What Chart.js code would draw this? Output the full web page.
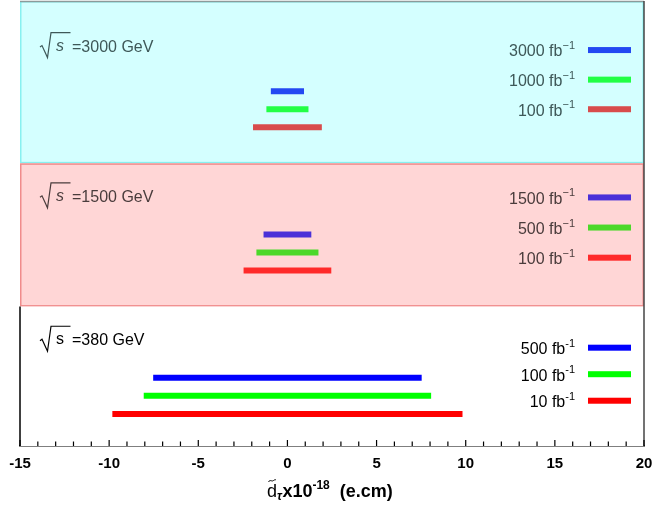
<!DOCTYPE html>
<html lang="en">
<head>
  <meta charset="UTF-8">
  <title>Tau EDM limits</title>
  <script src="https://cdn.jsdelivr.net/npm/chart.js"></script>
  <style>
    html, body { margin: 0; padding: 0; background: #fff; }
    #wrap { width: 652px; height: 508px; }
  </style>
</head>
<body>
  <div id="wrap"><canvas id="limitChart" width="652" height="508"></canvas></div>

  <script>
    // x-axis tick labels
    const xTicks = [-15, -10, -5, 0, 5, 10, 15, 20];

    // collision energies (GeV), one panel each, top to bottom
    const energies = ['3000', '1500', '380'];

    // luminosities (fb^-1) and symmetric limits on d_tau (x10^-18 e.cm)
    const lumi3000 = ['3000', '1000', '100'];
    const limit3000 = [0.93, 1.18, 1.93];
    const lumi1500 = ['1500', '500', '100'];
    const limit1500 = [1.34, 1.74, 2.46];
    const lumi380 = ['500', '100', '10'];
    const limit380 = [7.53, 8.06, 9.82];

    const FONT = '"Liberation Sans", Arial, sans-serif';

    // panel layout in y units (1 unit = one bar row)
    const panels = [
      { top: 0, bottom: 9, fill: '#d4ffff', edge: '#88f0f0', text: '#3e5858',
        italicS: true, minus: '\u2212', colors: ['#2448f2', '#22ff44', '#d84c4c'],
        lumi: lumi3000, limits: limit3000, barRow: 5, legRow: 2.72, legStep: 1.64, labelRow: 2.5 },
      { top: 9, bottom: 16.94, fill: '#ffd6d6', edge: '#f08c8c', text: '#4a3c3c',
        italicS: true, minus: '\u2212', colors: ['#4a30d8', '#4cd82a', '#ff2a2a'],
        lumi: lumi1500, limits: limit1500, barRow: 12.94, legRow: 10.89, legStep: 1.67, labelRow: 10.83 },
      { top: 16.94, bottom: 24.67, fill: '#ffffff', edge: null, text: '#000000',
        italicS: false, minus: '-', colors: ['#0000ff', '#00ff00', '#ff0000'],
        lumi: lumi380, limits: limit380, barRow: 20.89, legRow: 19.22, legStep: 1.47, labelRow: 18.78 }
    ];

    const datasets = panels.map((p, i) => ({
      label: energies[i] + ' GeV',
      data: p.limits.map((l, j) => ({ y: p.barRow + j, x: [-l, l] })),
      backgroundColor: p.colors,
      borderWidth: 0
    }));

    function drawRoot(ctx, x, yc, p, energy) {
      ctx.save();
      ctx.strokeStyle = p.text;
      ctx.lineWidth = 1.2;
      ctx.beginPath();
      ctx.moveTo(x, yc + 1);
      ctx.lineTo(x + 2, yc - 0.5);
      ctx.lineTo(x + 7.5, yc + 11.5);
      ctx.lineTo(x + 11, yc - 13.5);
      ctx.lineTo(x + 30.5, yc - 13.5);
      ctx.stroke();
      ctx.fillStyle = p.text;
      ctx.textBaseline = 'middle';
      ctx.textAlign = 'left';
      ctx.font = (p.italicS ? 'italic ' : '') + '16px ' + FONT;
      ctx.fillText('s', x + 16, yc);
      ctx.font = '16px ' + FONT;
      ctx.fillText('=' + energy + ' GeV', x + 32, yc + 1);
      ctx.restore();
    }

    function drawLumi(ctx, xRight, yc, value, p, color) {
      ctx.save();
      ctx.fillStyle = p.text;
      ctx.textBaseline = 'middle';
      ctx.textAlign = 'left';
      const main = value + ' fb';
      const sup = p.minus + '1';
      ctx.font = '11px ' + FONT;
      const wSup = ctx.measureText(sup).width;
      ctx.font = '16px ' + FONT;
      const wMain = ctx.measureText(main).width;
      const x0 = xRight - wMain - wSup;
      ctx.fillText(main, x0, yc + 2);
      ctx.font = '11px ' + FONT;
      ctx.fillText(sup, x0 + wMain, yc - 4);
      ctx.fillStyle = color;
      ctx.fillRect(588, yc - 3, 43, 6);
      ctx.restore();
    }

    const panelPlugin = {
      id: 'panels',
      beforeDatasetsDraw(chart) {
        const { ctx, chartArea: a, scales: { y } } = chart;
        ctx.save();
        panels.forEach(p => {
          const t = y.getPixelForValue(p.top), b = y.getPixelForValue(p.bottom);
          ctx.fillStyle = p.fill;
          ctx.fillRect(a.left, t, a.right - a.left, b - t);
          if (p.edge) {
            ctx.strokeStyle = p.edge;
            ctx.lineWidth = 1.5;
            ctx.strokeRect(a.left + 0.75, t + 0.75, a.right - a.left - 1.5, b - t - 1.5);
          }
        });
        // outer frame
        ctx.strokeStyle = '#8c9a9a';
        ctx.lineWidth = 1.5;
        ctx.beginPath();
        ctx.moveTo(a.left, a.top + 0.5);
        ctx.lineTo(a.right, a.top + 0.5);
        ctx.stroke();
        ctx.strokeStyle = '#444';
        ctx.beginPath();
        ctx.moveTo(a.right, a.top);
        ctx.lineTo(a.right, a.bottom);
        ctx.stroke();
        ctx.strokeStyle = '#000';
        ctx.beginPath();
        ctx.moveTo(a.left, y.getPixelForValue(panels[2].top));
        ctx.lineTo(a.left, a.bottom);
        ctx.stroke();
        ctx.restore();
      },
      afterDatasetsDraw(chart) {
        const { ctx, chartArea: a, scales: { x, y } } = chart;
        panels.forEach((p, i) => {
          drawRoot(ctx, 40, y.getPixelForValue(p.labelRow), p, energies[i]);
          p.lumi.forEach((v, j) => {
            drawLumi(ctx, 575, y.getPixelForValue(p.legRow + j * p.legStep), v, p, p.colors[j]);
          });
        });
        // inward minor/major ticks
        ctx.save();
        ctx.strokeStyle = '#000';
        ctx.lineWidth = 1.2;
        ctx.beginPath();
        for (let v = x.min; v <= x.max; v++) {
          const px = x.getPixelForValue(v);
          const len = v % 5 === 0 ? 6 : 4.5;
          ctx.moveTo(px, a.bottom);
          ctx.lineTo(px, a.bottom - len);
        }
        ctx.stroke();
        ctx.restore();
      },
      afterDraw(chart) {
        const ctx = chart.ctx;
        ctx.save();
        ctx.fillStyle = '#000';
        ctx.textBaseline = 'alphabetic';
        ctx.textAlign = 'left';
        let cx = 267;
        const base = 497;
        ctx.font = '18px ' + FONT;
        ctx.fillText('d', cx, base);
        const wd = ctx.measureText('d').width;
        // tilde over d
        ctx.strokeStyle = '#000';
        ctx.lineWidth = 1;
        ctx.beginPath();
        ctx.moveTo(cx + 1.5, base - 15);
        ctx.bezierCurveTo(cx + 3, base - 18, cx + 5, base - 15, cx + 6.5, base - 16.5);
        ctx.bezierCurveTo(cx + 7.5, base - 17.5, cx + 8.5, base - 17, cx + 9, base - 17.5);
        ctx.stroke();
        cx += wd;
        ctx.font = 'bold italic 12px ' + FONT;
        ctx.fillText('\u03c4', cx, base + 3);
        cx += ctx.measureText('\u03c4').width + 0.5;
        ctx.font = 'bold 18px ' + FONT;
        ctx.fillText('x10', cx, base);
        cx += ctx.measureText('x10').width;
        ctx.font = 'bold 12px ' + FONT;
        ctx.fillText('-18', cx, base - 8);
        cx += ctx.measureText('-18').width;
        ctx.font = 'bold 18px ' + FONT;
        ctx.fillText('  (e.cm)', cx, base);
        ctx.restore();
      }
    };

    new Chart(document.getElementById('limitChart'), {
      type: 'bar',
      data: { datasets: datasets },
      options: {
        responsive: false,
        animation: false,
        indexAxis: 'y',
        grouped: false,
        maxBarThickness: 6,
        layout: { padding: { left: 20, right: 8, top: 1, bottom: 26 } },
        plugins: { legend: { display: false }, tooltip: { enabled: false } },
        scales: {
          x: {
            type: 'linear',
            min: -15,
            max: 20,
            afterBuildTicks: s => { s.ticks = xTicks.map(v => ({ value: v })); },
            afterFit: s => { s.paddingLeft = 0; s.paddingRight = 0; },
            grid: { drawOnChartArea: false, drawTicks: false },
            border: { display: true, color: '#000', width: 1.5 },
            ticks: { color: '#000', padding: 9, maxRotation: 0, font: { family: FONT, size: 15, weight: 'bold' } }
          },
          y: {
            type: 'linear',
            display: false,
            reverse: true,
            offset: false,
            min: 0,
            max: 24.67
          }
        }
      },
      plugins: [panelPlugin]
    });
  </script>
</body>
</html>
